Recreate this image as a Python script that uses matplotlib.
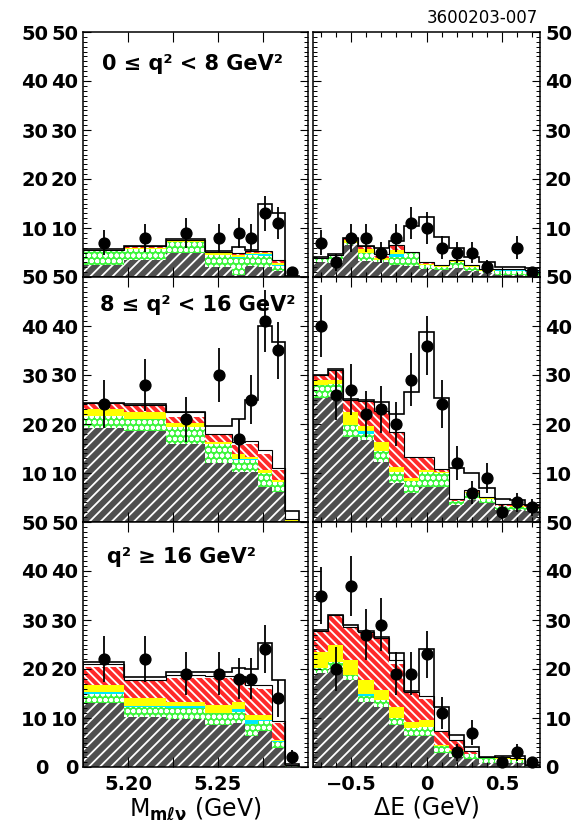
import numpy as np
import matplotlib
matplotlib.use("Agg")
import matplotlib.pyplot as plt
from matplotlib.ticker import FixedLocator, FixedFormatter, MultipleLocator, NullFormatter

plt.rcParams['font.family'] = ['DejaVu Sans']
plt.rcParams['font.weight'] = 'bold'
plt.rcParams['mathtext.default'] = 'bf'
plt.rcParams['hatch.linewidth'] = 1.3

# ---------------------------------------------------------------- binning
mes_edges = [5.175, 5.198, 5.221, 5.243, 5.258, 5.265, 5.272, 5.280, 5.287, 5.295]
de_edges = [-0.75, -0.65, -0.55, -0.45, -0.35, -0.25, -0.15, -0.05,
            0.05, 0.15, 0.25, 0.35, 0.45, 0.55, 0.65, 0.75]

q2_labels = ["0 ≤ q² < 8 GeV²", "8 ≤ q² < 16 GeV²", "q² ≥ 16 GeV²"]

# ---------------------------------------------------------------- 0 <= q2 < 8
mes_lo_data = [7, 8, 9, 8, 9, 8, 13, 11, 1]
mes_lo_err = [2.6, 2.8, 3.0, 2.8, 3.0, 2.8, 3.6, 3.3, 1.0]
mes_lo_cont = [2.4, 3.5, 4.8, 2.0, 0.5, 2.2, 2.0, 1.2, 0.1]
mes_lo_green = [3.1, 2.3, 2.4, 2.4, 3.4, 2.3, 2.3, 1.1, 0.1]
mes_lo_cyan = [0.0, 0.0, 0.0, 0.1, 0.2, 0.2, 0.3, 0.1, 0.0]
mes_lo_yellow = [0.0, 0.2, 0.1, 0.3, 0.3, 0.3, 0.3, 0.4, 0.0]
mes_lo_red = [0.1, 0.2, 0.1, 0.2, 0.3, 0.3, 0.4, 0.5, 0.1]
mes_lo_other = [0.0, 0.1, 0.2, 0.2, 0.1, 0.1, 0.1, 0.1, 0.0]
mes_lo_signal = [0.1, 0.1, 0.2, 0.2, 1.4, 0.1, 9.6, 9.6, 0.0]

de_lo_data = [7, 3, 8, 8, 5, 8, 11, 10, 6, 5, 5, 2, 0, 6, 1]
de_lo_err = [2.6, 1.7, 2.8, 2.8, 2.2, 2.8, 3.3, 3.2, 2.4, 2.2, 2.2, 1.4, 0.0, 2.4, 1.0]
de_lo_cont = [3.1, 2.8, 6.6, 3.3, 3.0, 2.5, 2.2, 1.6, 1.5, 1.8, 1.3, 0.8, 0.4, 0.4, 0.3]
de_lo_green = [0.7, 1.5, 0.4, 1.5, 0.5, 1.5, 2.6, 0.9, 0.5, 1.2, 0.7, 0.5, 0.8, 0.9, 0.7]
de_lo_cyan = [0.0, 0.0, 0.0, 0.1, 0.0, 0.6, 0.0, 0.0, 0.0, 0.0, 0.0, 0.0, 0.3, 0.3, 0.3]
de_lo_yellow = [0.0, 0.0, 0.5, 0.9, 0.4, 1.0, 0.1, 0.2, 0.2, 0.2, 0.2, 0.1, 0.0, 0.0, 0.0]
de_lo_red = [0.1, 0.2, 0.3, 0.4, 0.4, 0.8, 0.2, 0.3, 0.2, 0.2, 0.2, 0.1, 0.1, 0.1, 0.1]
de_lo_other = [0.0, 0.0, 0.1, 0.1, 0.3, 0.1, 0.1, 0.1, 0.1, 0.1, 0.1, 0.1, 0.0, 0.0, 0.0]
de_lo_signal = [0.1, 0.1, 0.1, 0.0, 1.3, 0.9, 5.3, 9.2, 5.7, 2.4, 1.6, 1.5, 0.5, 0.4, 0.4]

# ---------------------------------------------------------------- 8 <= q2 < 16
mes_mid_data = [24, 28, 21, 30, 17, 25, 41, 35, 0]
mes_mid_err = [4.9, 5.3, 4.6, 5.5, 4.1, 5.0, 6.4, 5.9, 0.0]
mes_mid_cont = [19.1, 18.6, 15.9, 12.0, 10.3, 10.3, 7.2, 6.2, 0.1]
mes_mid_green = [2.5, 2.5, 3.5, 4.0, 2.3, 2.3, 2.7, 2.0, 0.1]
mes_mid_cyan = [0.0, 0.0, 0.0, 0.0, 0.3, 0.2, 0.2, 0.0, 0.0]
mes_mid_yellow = [1.4, 1.3, 0.9, 0.4, 1.0, 0.5, 0.5, 0.4, 0.2]
mes_mid_red = [1.0, 1.2, 1.2, 1.4, 1.9, 2.7, 3.3, 2.0, 0.1]
mes_mid_other = [0.2, 0.3, 0.9, 0.2, 0.5, 0.5, 0.7, 0.5, 0.1]
mes_mid_signal = [0.1, 0.1, 0.1, 1.5, 4.7, 8.5, 25.4, 25.7, 1.6]

de_mid_data = [40, 26, 27, 22, 23, 20, 29, 36, 24, 12, 6, 9, 2, 4, 3]
de_mid_err = [6.3, 5.1, 5.2, 4.7, 4.8, 4.5, 5.4, 6.0, 4.9, 3.5, 2.4, 3.0, 1.4, 2.0, 1.7]
de_mid_cont = [25.4, 25.6, 17.4, 16.7, 12.3, 7.9, 5.9, 7.2, 7.2, 3.5, 4.5, 3.8, 2.4, 2.4, 2.3]
de_mid_green = [2.6, 2.6, 2.3, 1.3, 2.1, 2.4, 2.5, 3.0, 2.7, 0.7, 1.5, 0.8, 0.8, 0.7, 0.7]
de_mid_cyan = [0.0, 0.0, 0.0, 0.5, 0.0, 0.0, 0.0, 0.0, 0.0, 0.0, 0.0, 0.0, 0.0, 0.0, 0.0]
de_mid_yellow = [1.0, 0.7, 2.8, 1.0, 2.0, 1.0, 0.5, 0.4, 0.4, 0.1, 0.2, 0.2, 0.1, 0.1, 0.1]
de_mid_red = [0.8, 2.1, 2.3, 5.0, 6.1, 6.8, 4.1, 2.4, 0.4, 0.3, 0.3, 0.2, 0.2, 0.3, 0.3]
de_mid_other = [0.1, 0.1, 0.1, 0.2, 0.2, 0.2, 0.2, 0.2, 0.2, 0.1, 0.1, 0.1, 0.1, 0.1, 0.0]
de_mid_signal = [0.1, 0.1, 0.1, 0.1, 1.7, 3.7, 13.4, 25.6, 14.5, 6.3, 3.3, 1.9, 1.0, 0.9, 0.1]

# ---------------------------------------------------------------- q2 >= 16
mes_hi_data = [22, 22, 19, 19, 18, 18, 24, 14, 2]
mes_hi_err = [4.7, 4.7, 4.4, 4.4, 4.2, 4.2, 4.9, 3.7, 1.4]
mes_hi_cont = [13.0, 10.3, 9.7, 8.6, 8.9, 6.3, 7.4, 3.8, 0.1]
mes_hi_green = [2.0, 2.0, 2.3, 2.4, 2.4, 2.5, 1.9, 1.4, 0.2]
mes_hi_cyan = [0.3, 0.2, 0.4, 0.1, 0.6, 0.8, 0.3, 0.1, 0.0]
mes_hi_yellow = [1.4, 1.5, 0.9, 1.6, 1.4, 1.0, 1.0, 0.2, 0.1]
mes_hi_red = [3.8, 3.5, 4.9, 5.4, 4.7, 5.5, 5.4, 3.5, 0.1]
mes_hi_other = [0.5, 0.3, 0.6, 0.4, 0.5, 0.6, 0.7, 0.3, 0.0]
mes_hi_signal = [0.5, 0.5, 0.5, 0.8, 1.8, 3.3, 8.7, 8.5, 0.1]

de_hi_data = [35, 20, 37, 27, 29, 19, 19, 23, 11, 3, 7, 0, 1, 3, 1]
de_hi_err = [5.9, 4.5, 6.1, 5.2, 5.4, 4.4, 4.4, 4.8, 3.3, 1.7, 2.6, 0.0, 1.0, 1.7, 1.0]
de_hi_cont = [19.1, 20.0, 17.8, 13.3, 12.3, 8.6, 6.3, 6.4, 2.8, 2.0, 1.6, 0.9, 0.8, 0.8, 0.1]
de_hi_green = [1.2, 1.5, 1.0, 1.2, 1.3, 1.4, 1.6, 1.8, 1.4, 1.3, 1.0, 0.9, 0.9, 0.7, 0.2]
de_hi_cyan = [0.0, 0.0, 0.0, 0.5, 0.0, 0.0, 0.0, 0.0, 0.0, 0.0, 0.0, 0.0, 0.0, 0.0, 0.1]
de_hi_yellow = [3.2, 3.5, 3.0, 2.8, 2.1, 2.3, 1.3, 1.3, 0.2, 0.1, 0.1, 0.1, 0.1, 0.1, 0.0]
de_hi_red = [4.1, 6.0, 6.5, 9.5, 10.6, 8.7, 6.0, 4.3, 2.8, 2.1, 0.5, 0.2, 0.2, 0.2, 0.1]
de_hi_other = [0.2, 0.0, 0.3, 0.3, 0.1, 0.8, 0.2, 0.6, 0.2, 0.1, 0.1, 0.0, 0.1, 0.1, 0.0]
de_hi_signal = [0.2, 0.0, 0.4, 0.2, 0.2, 1.4, 0.1, 9.6, 4.9, 1.0, 0.8, 0.0, 0.2, 0.4, 0.0]

# ---------------------------------------------------------------- styling
GRAY = '#505050'
GREEN = '#3cf53c'
RED = '#ff2a2a'
YELLOW = '#ffff00'
CYAN = '#00e8ff'

W, H = 577, 824
fig = plt.figure(figsize=(W / 100, H / 100), dpi=100)

col_px = [(83, 225), (313, 227)]
row_top_px = [32, 277, 522]
row_h_px = 245

rows = [
    (
        (mes_lo_data, mes_lo_err, [mes_lo_cont, mes_lo_green, mes_lo_cyan, mes_lo_yellow, mes_lo_red, mes_lo_other, mes_lo_signal]),
        (de_lo_data, de_lo_err, [de_lo_cont, de_lo_green, de_lo_cyan, de_lo_yellow, de_lo_red, de_lo_other, de_lo_signal]),
    ),
    (
        (mes_mid_data, mes_mid_err, [mes_mid_cont, mes_mid_green, mes_mid_cyan, mes_mid_yellow, mes_mid_red, mes_mid_other, mes_mid_signal]),
        (de_mid_data, de_mid_err, [de_mid_cont, de_mid_green, de_mid_cyan, de_mid_yellow, de_mid_red, de_mid_other, de_mid_signal]),
    ),
    (
        (mes_hi_data, mes_hi_err, [mes_hi_cont, mes_hi_green, mes_hi_cyan, mes_hi_yellow, mes_hi_red, mes_hi_other, mes_hi_signal]),
        (de_hi_data, de_hi_err, [de_hi_cont, de_hi_green, de_hi_cyan, de_hi_yellow, de_hi_red, de_hi_other, de_hi_signal]),
    ),
]


def layer(ax, top, base, edges, face, hatch_color=None, hatch=None):
    """Solid slab between base and top, optionally overlaid with a hatch."""
    ax.stairs(top, edges, baseline=base, fill=True, facecolor=face,
              linewidth=0, zorder=1)
    if hatch:
        ax.stairs(top, edges, baseline=base, fill=True, facecolor='none',
                  edgecolor=hatch_color, hatch=hatch, linewidth=0, zorder=1.1)


def draw_stack(ax, edges, comps, data, err):
    edges = np.asarray(edges)
    cont, green, cyan, yellow, red, other, signal = [np.asarray(c, float) for c in comps]
    base = np.zeros_like(cont)

    # continuum: dark fill with light diagonal stripes
    top = base + cont
    layer(ax, top, base, edges, GRAY, 'white', '///')
    base = top

    top = base + green
    layer(ax, top, base, edges, GREEN, 'white', 'ooo')
    base = top

    top = base + cyan
    layer(ax, top, base, edges, CYAN)
    base = top

    top = base + yellow
    layer(ax, top, base, edges, YELLOW)
    base = top

    top = base + red
    layer(ax, top, base, edges, RED, 'white', '\\\\\\\\')
    base = top

    top = base + other
    ax.stairs(top, edges, baseline=None, color='black', linewidth=0.8, zorder=2)
    base = top

    total = base + signal
    ax.stairs(total, edges, baseline=0, color='black', linewidth=1.2, zorder=3)

    centers = 0.5 * (edges[:-1] + edges[1:])
    data = np.asarray(data, float)
    err = np.asarray(err, float)
    keep = data > 0
    ax.errorbar(centers[keep], data[keep], yerr=err[keep], fmt='o', color='black',
                ms=7.8, elinewidth=1.3, capsize=0, clip_on=False, zorder=5)


for r, row in enumerate(rows):
    for c, (data, err, comps) in enumerate(row):
        x0_px, w_px = col_px[c]
        y0 = 1 - (row_top_px[r] + row_h_px) / H
        ax = fig.add_axes([x0_px / W, y0, w_px / W, row_h_px / H])
        edges = mes_edges if c == 0 else de_edges
        draw_stack(ax, edges, comps, data, err)

        ax.set_ylim(0, 50)
        for s in ax.spines.values():
            s.set_linewidth(1.1)

        ylabels = ['0' if r == 2 else '', '10', '20', '30', '40', '50']
        ax.yaxis.set_major_locator(FixedLocator([0, 10, 20, 30, 40, 50]))
        ax.yaxis.set_minor_locator(MultipleLocator(1))
        ax.tick_params(axis='y', which='major', direction='in', length=6, width=0.8,
                       left=True, right=True, labelsize=14, pad=3.6)
        ax.tick_params(axis='y', which='minor', direction='in', length=3.2, width=0.7,
                       left=True, right=True)
        ax.tick_params(axis='x', which='both', direction='in', top=True, bottom=True,
                       width=0.8, labelsize=14, pad=6)
        ax.tick_params(axis='x', which='major', length=7.5)
        ax.tick_params(axis='x', which='minor', length=3.8)

        if c == 0:
            ax.set_xlim(5.175, 5.30)
            ax.xaxis.set_major_locator(FixedLocator([5.20, 5.225, 5.25, 5.275]))
            ax.xaxis.set_major_formatter(FixedFormatter(['5.20', '', '5.25', '']))
            ax.yaxis.set_major_formatter(FixedFormatter(ylabels))
            ax.tick_params(axis='y', labelleft=True, labelright=False)
            sec = ax.secondary_yaxis(-0.133)
            sec.set_yticks([0, 10, 20, 30, 40, 50])
            sec.set_yticklabels(ylabels)
            sec.tick_params(length=0, labelsize=14, pad=3.6)
            sec.spines['left'].set_visible(False)
            ax.text([0.084, 0.076, 0.107][r], [0.871, 0.886, 0.857][r], q2_labels[r],
                    transform=ax.transAxes, fontsize=15, ha='left', va='center')
            if r == 2:
                ax.set_xlabel(r'M$_{m\ell\nu}$ (GeV)', fontsize=17, labelpad=1)
        else:
            ax.set_xlim(-0.75, 0.75)
            ax.xaxis.set_major_locator(FixedLocator([-0.5, 0.0, 0.5]))
            ax.xaxis.set_minor_locator(MultipleLocator(0.1))
            ax.xaxis.set_major_formatter(FixedFormatter(['−0.5', '0', '0.5']))
            ax.yaxis.set_major_formatter(FixedFormatter(ylabels))
            ax.tick_params(axis='y', labelleft=False, labelright=True)
            if r == 2:
                ax.set_xlabel('ΔE (GeV)', fontsize=17, labelpad=1)

        if r < 2:
            ax.tick_params(axis='x', labelbottom=False)
        if c == 0:
            ax.xaxis.set_minor_formatter(NullFormatter())

fig.text(538 / W, 1 - 18 / H, '3600203-007', ha='right', va='center',
         fontsize=12, fontweight='normal')

fig.savefig('out.png', dpi=100)
